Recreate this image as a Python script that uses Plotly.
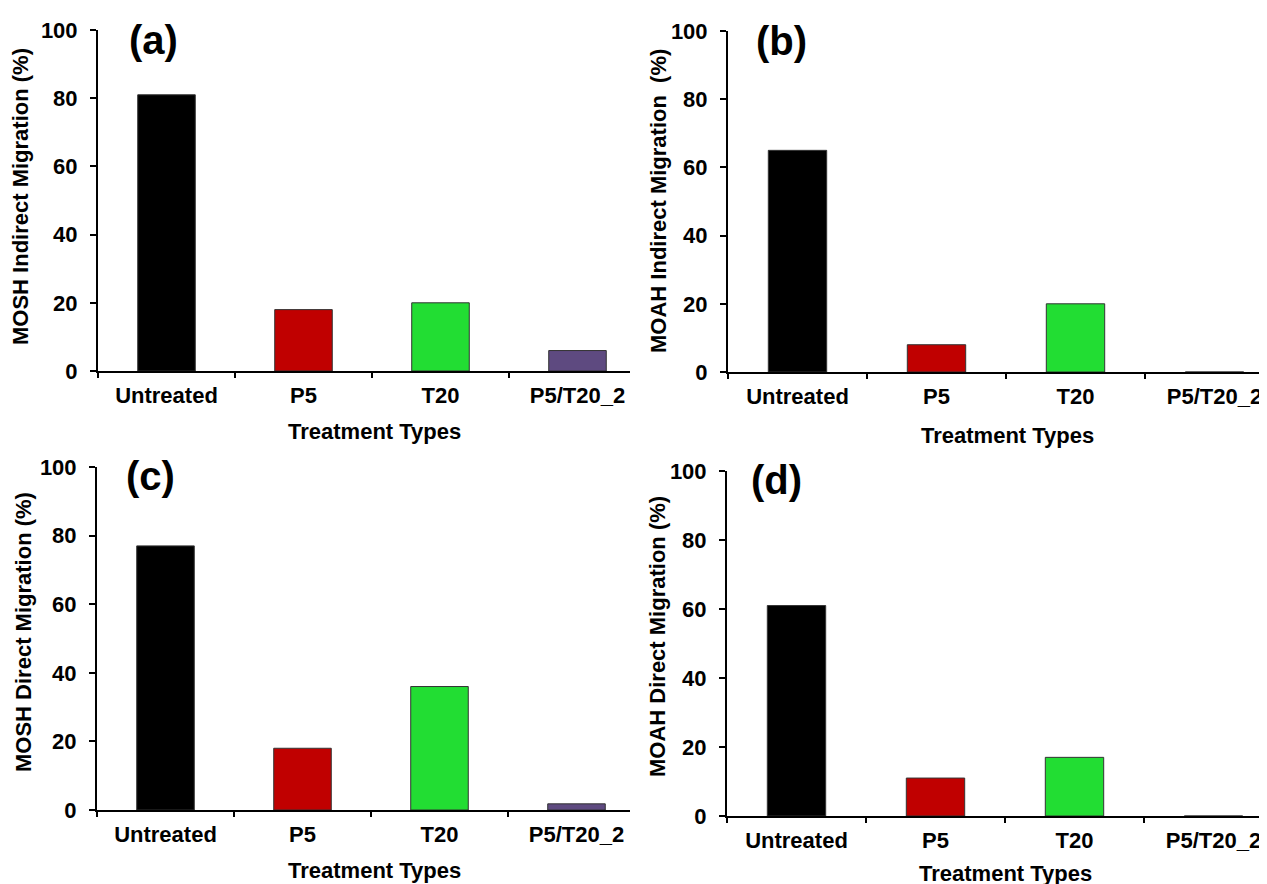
import plotly.graph_objects as go

categories = ["Untreated", "P5", "T20", "P5/T20_2"]
bar_colors = ["#000000", "#C00000", "#22DD33", "#5E4A80"]

mosh_indirect = [81, 18, 20, 6]
moah_indirect = [65, 8, 20, 0]
mosh_direct = [77, 18, 36, 1.8]
moah_direct = [61, 11, 17, 0]

y_titles = ["MOSH Indirect Migration (%)", "MOAH Indirect Migration  (%)",
            "MOSH Direct Migration (%)", "MOAH Direct Migration (%)"]
panel_labels = ["(a)", "(b)", "(c)", "(d)"]
x_title = "Treatment Types"
y_ticks = [0, 20, 40, 60, 80, 100]

W, H = 1267, 884
OFF = 8  # page body margin in the browser
FONT = "Liberation Sans, Arial, sans-serif"


def px(x):
    return (x - OFF) / W


def py(y):
    return 1 - (y - OFF) / H


# pixel layout for each panel: x-axis start/end, y of 0 and 100, category spacing
panels = [
    dict(x0=98, x1=630, y0=371, y100=30, sp=137, lab=(153, 40), yt=(20, 197), xt=(374, 431)),
    dict(x0=728, x1=1267, y0=372, y100=31, sp=139, lab=(781, 41), yt=(658, 201), xt=(1008, 435)),
    dict(x0=97, x1=630, y0=810, y100=467, sp=137, lab=(150, 476), yt=(23, 632), xt=(374, 870)),
    dict(x0=727, x1=1265, y0=816, y100=471, sp=139, lab=(776, 480), yt=(657, 637), xt=(1005, 873)),
]
series = [mosh_indirect, moah_indirect, mosh_direct, moah_direct]

fig = go.Figure()
layout = dict(template="none", width=W, height=H,
              margin=dict(l=0, r=0, t=0, b=0, autoexpand=False),
              plot_bgcolor="white", paper_bgcolor="white", showlegend=False)
annotations = []
for i, (p, vals) in enumerate(zip(panels, series)):
    n = "" if i == 0 else str(i + 1)
    fig.add_trace(go.Bar(x=categories, y=vals, marker=dict(color=bar_colors,
                         line=dict(color="#333333", width=1)),
                         width=0.42, xaxis="x" + n, yaxis="y" + n))
    xr_end = -0.5 + (p["x1"] - p["x0"]) / p["sp"]
    tf = dict(family=FONT, size=22, color="black", weight="bold")
    layout["xaxis" + n] = dict(domain=[px(p["x0"]), px(p["x1"])], anchor="y" + n,
                               range=[-0.5, xr_end], type="category", automargin=False,
                               showline=True, linewidth=2, linecolor="black",
                               ticks="outside", tickson="boundaries", ticklen=5,
                               tickwidth=2, tickcolor="black", showgrid=False,
                               ticklabelstandoff=4, tickfont=tf, fixedrange=True)
    layout["yaxis" + n] = dict(domain=[py(p["y0"]), py(p["y100"])], anchor="x" + n,
                               range=[0, 100], tickvals=y_ticks, automargin=False,
                               showline=True, linewidth=2, linecolor="black",
                               ticks="outside", ticklen=6, tickwidth=2, tickcolor="black",
                               showgrid=False, zeroline=False, ticklabelstandoff=8,
                               tickfont=tf, fixedrange=True)
    annotations.append(dict(text=panel_labels[i], x=px(p["lab"][0]), y=py(p["lab"][1]),
                            xref="paper", yref="paper", showarrow=False,
                            xanchor="center", yanchor="middle",
                            font=dict(family=FONT, size=40, color="black", weight="bold")))
    annotations.append(dict(text=y_titles[i], x=px(p["yt"][0]), y=py(p["yt"][1]),
                            xref="paper", yref="paper", showarrow=False, textangle=-90,
                            xanchor="center", yanchor="middle",
                            font=dict(family=FONT, size=22, color="black", weight="bold")))
    annotations.append(dict(text=x_title, x=px(p["xt"][0]), y=py(p["xt"][1]),
                            xref="paper", yref="paper", showarrow=False,
                            xanchor="center", yanchor="middle",
                            font=dict(family=FONT, size=22, color="black", weight="bold")))
layout["annotations"] = annotations
fig.update_layout(**layout)
fig.write_html("out.html")
